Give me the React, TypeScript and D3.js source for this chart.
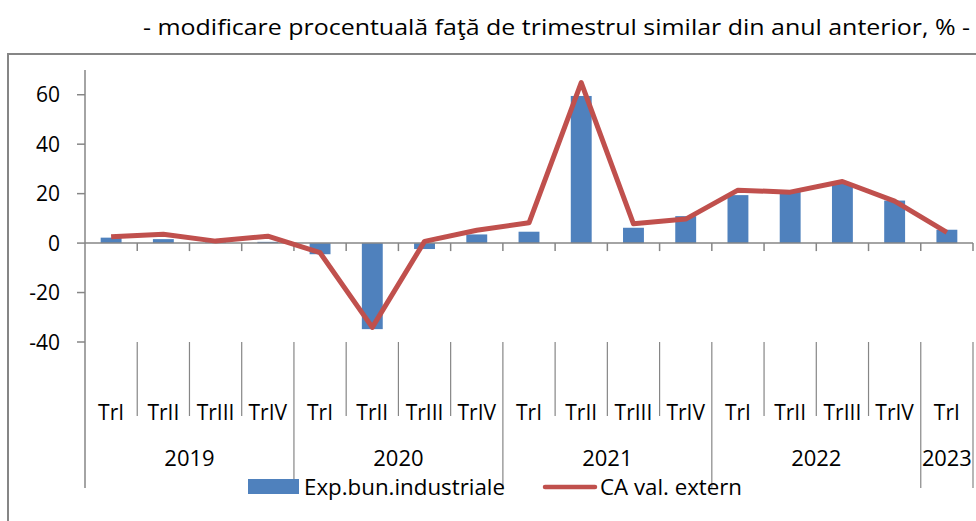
import React from 'react';
import * as d3 from 'd3';

// date
const years = ['2019', '2020', '2021', '2022', '2023'];
const quarters = ['TrI', 'TrII', 'TrIII', 'TrIV', 'TrI', 'TrII', 'TrIII', 'TrIV', 'TrI', 'TrII', 'TrIII', 'TrIV', 'TrI', 'TrII', 'TrIII', 'TrIV', 'TrI'];
const yearOfQuarter = [0, 0, 0, 0, 1, 1, 1, 1, 2, 2, 2, 2, 3, 3, 3, 3, 4];
const expBunIndustriale = [2.2, 1.6, 0.3, 0.5, -4.5, -34.8, -2.4, 3.5, 4.6, 59.5, 6.2, 10.9, 19.4, 21, 24.1, 17.2, 5.4];
const caValExtern = [2.6, 3.6, 0.8, 2.8, -3.9, -34.1, 0.7, 5.2, 8.2, 64.9, 7.8, 9.7, 21.4, 20.6, 24.9, 17, 4.3];
const yTicks = [-40, -20, 0, 20, 40, 60];

const title = '- modificare procentuală faţă de trimestrul similar din anul anterior, % -';
const legendBar = 'Exp.bun.industriale';
const legendLine = 'CA val. extern';

const width = 976;
const height = 521;
const left = 85;
const right = 973;
const font = "'Open Sans', sans-serif";
const axisColor = '#868686';
const blue = '#4F81BD';
const red = '#C0504D';

export default function App() {
  const idx = quarters.map((_, i) => String(i));

  const x = d3.scaleBand()
    .domain(idx)
    .range([left, right])
    .paddingInner(0.6)
    .paddingOuter(0.3);

  const step = (right - left) / quarters.length;
  const edge = (i: number) => left + i * step;

  const y = d3.scaleLinear()
    .domain([-40, 70])
    .range([342, 70]);

  const line = d3.line<number>()
    .x((_, i) => (x(String(i)) as number) + x.bandwidth() / 2)
    .y(d => y(d));

  const zeroY = y(0);
  const labelTop = y(-40);
  const quarterBottom = 416;
  const yearBottom = 488;

  // granitele anilor
  const yearEdges = [0];
  yearOfQuarter.forEach((yr, i) => {
    if (i > 0 && yr !== yearOfQuarter[i - 1]) yearEdges.push(i);
  });
  yearEdges.push(quarters.length);

  return (
    <svg width={width} height={height} style={{ position: 'absolute', left: 0, top: 0, background: '#fff' }}
      fontFamily={font}>
      <rect x={8} y={54} width={width} height={height} fill="none" stroke={axisColor} strokeWidth={2} />

      <text x={970} y={35} textAnchor="end" fontSize={21} fill="#000"
        textLength={827} lengthAdjust="spacingAndGlyphs">{title}</text>

      {/* axa Y */}
      <line x1={left} x2={left} y1={70} y2={yearBottom} stroke={axisColor} strokeWidth={1.5} />
      {yTicks.map(t => (
        <g key={t}>
          <line x1={left - 8} x2={left} y1={y(t)} y2={y(t)} stroke={axisColor} strokeWidth={1.5} />
          <text x={left - 25} y={y(t)} dy="0.36em" textAnchor="end" fontSize={21} fill="#000">{t}</text>
        </g>
      ))}

      {/* bare */}
      {expBunIndustriale.map((v, i) => (
        <rect key={i} x={x(String(i))} width={x.bandwidth()}
          y={Math.min(y(v), zeroY)} height={Math.abs(y(v) - zeroY)} fill={blue} />
      ))}

      {/* axa X */}
      <line x1={left} x2={right} y1={zeroY} y2={zeroY} stroke={axisColor} strokeWidth={1.5} />
      {quarters.map((_, i) => (
        <line key={i} x1={edge(i + 1)} x2={edge(i + 1)} y1={zeroY} y2={zeroY + 8} stroke={axisColor} strokeWidth={1.5} />
      ))}

      <path d={line(caValExtern) || ''} fill="none" stroke={red} strokeWidth={5} strokeLinejoin="round" />

      {/* etichete categorii */}
      {quarters.map((q, i) => (
        <g key={'q' + i}>
          {i > 0 && (
            <line x1={edge(i)} x2={edge(i)} y1={labelTop} y2={yearEdges.includes(i) ? yearBottom : quarterBottom}
              stroke={axisColor} strokeWidth={1.2} />
          )}
          <text x={edge(i) + step / 2} y={412} dy="0.36em" textAnchor="middle" fontSize={21} fill="#000">{q}</text>
        </g>
      ))}
      <line x1={right} x2={right} y1={labelTop} y2={yearBottom} stroke={axisColor} strokeWidth={1.2} />
      {years.map((yr, k) => {
        const a = edge(yearEdges[k]);
        const b = edge(yearEdges[k + 1]);
        return (
          <text key={yr} x={(a + b) / 2} y={458} dy="0.36em" textAnchor="middle" fontSize={22} fill="#000"
            textLength={k === 4 ? 50 : undefined} lengthAdjust="spacingAndGlyphs">{yr}</text>
        );
      })}

      {/* legenda */}
      <rect x={248} y={479} width={51} height={15} fill={blue} />
      <text x={304} y={487} dy="0.36em" fontSize={21} fill="#000" textLength={201} lengthAdjust="spacingAndGlyphs">{legendBar}</text>
      <line x1={545} x2={595} y1={487} y2={487} stroke={red} strokeWidth={4.5} strokeLinecap="round" />
      <text x={600} y={487} dy="0.36em" fontSize={21} fill="#000" textLength={142} lengthAdjust="spacingAndGlyphs">{legendLine}</text>
    </svg>
  );
}
